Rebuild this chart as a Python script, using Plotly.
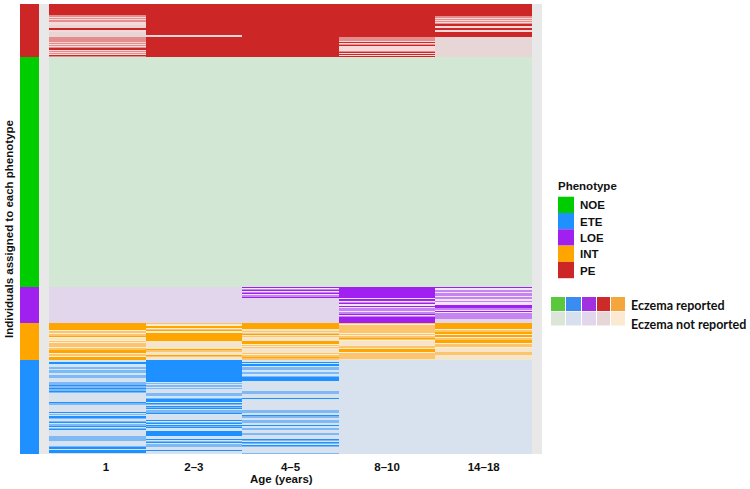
import plotly.graph_objects as go

AGES = ["1", "2–3", "4–5", "8–10", "14–18"]
AGE_TICK_POS = [0.09, 1, 2, 3, 4]
GROUPS = ["PE", "NOE", "LOE", "INT", "ETE"]
GROUP_ROWS = [53, 230, 36, 37, 94]
LEGEND_ORDER = ["NOE", "ETE", "LOE", "INT", "PE"]

# Each strip: (rows, state). State 0 = not reported, 1 = reported, 2 = mixed, 3 = mostly not
PE = [
    [(11,1),(2,2),(1,3),(1,2),(1,3),(2,2),(3,3),(3,0),(2,1),(2,3),(5,0),(5,2),(1,0),(1,2),(1,3),(1,2),(1,3),(1,2),(2,1),(1,3),(1,2),(1,3),(1,2),(1,3),(1,1),(1,2)],
    [(31,1),(1,3),(1,0),(20,1)],
    [(53,1)],
    [(33,1),(4,2),(1,3),(1,1),(1,3),(1,2),(1,1),(1,3),(4,3),(1,2),(1,1),(1,3),(1,1),(1,3),(1,1)],
    [(12,1),(2,2),(1,3),(1,2),(1,3),(1,2),(1,3),(1,2),(2,1),(2,3),(2,1),(2,3),(5,1),(20,0)],
]
NOE = [[(230,0)], [(230,0)], [(230,0)], [(230,0)], [(230,0)]]
LOE = [
    [(36,0)],
    [(36,0)],
    [(1,1),(1,3),(1,2),(1,1),(1,3),(1,2),(1,1),(1,3),(2,2),(1,1),(25,0)],
    [(11,1),(1,3),(2,1),(1,3),(1,2),(1,1),(2,3),(1,1),(1,3),(3,2),(1,3),(2,2),(1,1),(1,3),(1,2),(1,1),(5,1)],
    [(1,1),(2,3),(2,2),(1,3),(3,2),(1,3),(2,2),(2,3),(1,2),(3,3),(3,1),(2,2),(1,3),(1,1),(1,3),(6,2),(4,0)],
]
INT = [
    [(7,1),(1,3),(2,2),(1,3),(2,2),(1,1),(1,3),(2,0),(1,3),(1,2),(1,3),(4,2),(1,3),(2,2),(3,1),(1,3),(2,2),(1,3),(3,1)],
    [(1,2),(1,0),(1,3),(2,1),(1,3),(1,2),(1,1),(2,3),(8,1),(8,0),(1,1),(2,2),(3,0),(1,1),(1,2),(3,0)],
    [(6,1),(2,0),(1,2),(1,0),(1,2),(1,1),(1,0),(1,2),(4,0),(3,1),(1,3),(1,2),(1,3),(1,2),(5,0),(1,2),(1,3),(2,2),(1,1),(2,2)],
    [(1,2),(1,3),(8,2),(1,3),(1,2),(1,3),(2,2),(1,1),(1,2),(1,3),(5,0),(2,2),(1,0),(3,1),(1,3),(6,2),(1,0)],
    [(6,1),(1,3),(2,2),(2,1),(1,3),(2,1),(1,3),(2,2),(3,1),(1,3),(3,2),(1,3),(4,0),(3,2),(5,0)],
]
ETE = [
    [(2,3),(2,1),(3,3),(2,2),(1,3),(3,2),(2,3),(3,2),(3,0),(1,3),(3,2),(1,1),(2,2),(1,1),(2,2),(1,1),(1,2),(1,3),(8,0),(1,1),(2,2),(5,0),(2,0),(1,1),(1,3),(1,2),(1,0),(2,1),(1,2),(1,3),(1,0),(1,2),(1,1),(1,3),(2,2),(1,1),(1,3),(1,2),(1,1),(1,3),(5,0),(5,2),(2,0),(1,3),(2,0),(1,2),(2,1),(1,3),(3,1),(1,0)],
    [(22,1),(1,3),(1,2),(1,3),(2,2),(1,3),(1,2),(4,0),(3,2),(2,3),(1,2),(3,1),(1,3),(1,1),(1,2),(1,3),(1,1),(1,2),(1,1),(1,3),(3,2),(1,1),(1,3),(5,0),(1,1),(1,3),(1,2),(1,1),(1,3),(1,1),(1,2),(1,1),(3,3),(5,1),(2,0),(1,3),(1,1),(1,3),(1,2),(1,1),(1,3),(3,2),(3,0),(1,1),(3,0)],
    [(2,3),(1,1),(1,3),(2,1),(1,3),(3,2),(2,3),(2,2),(2,3),(1,2),(4,1),(10,0),(3,2),(4,0),(1,1),(11,0),(3,2),(2,0),(1,1),(2,2),(2,0),(3,2),(2,0),(1,1),(2,3),(2,2),(3,0),(2,2),(4,0),(1,1),(1,2),(1,3),(1,1),(1,2),(1,3),(1,1),(1,2),(6,0),(1,2)],
    [(94,0)],
    [(94,0)],
]
STRIPS = [PE, NOE, LOE, INT, ETE]

# state order: not reported, reported, mixed, mostly not
PALETTE = {
    "PE":  ["#e8d6d7", "#cd2626", "#e58c8c", "#f7d9d9"],
    "NOE": ["#d3e8d4", "#00cd00", "#80e080", "#d3e8d4"],
    "LOE": ["#e2d6ec", "#a020f0", "#c584f2", "#f2e4fb"],
    "INT": ["#f5e5cb", "#ffa500", "#fcc46c", "#feeed2"],
    "ETE": ["#d7e2ee", "#1e90ff", "#7fb9f5", "#d0e7fb"],
}

KEY_STRONG = ["#5ac83c", "#3a8cf0", "#a030e0", "#cd2a2a", "#f4a63c"]
KEY_PALE = ["#dbe6d8", "#d8e0ee", "#e2d6ec", "#e6d6d8", "#fbe9d2"]

colors = [c for g in GROUPS for c in PALETTE[g]]
n = len(colors)
colorscale = []
for i, c in enumerate(colors):
    colorscale += [[i / n, c], [(i + 1) / n, c]]

rows = []
side = []
for g, (name, cells, total) in enumerate(zip(GROUPS, STRIPS, GROUP_ROWS)):
    block = [[] for _ in AGES]
    for a, runs in enumerate(cells):
        for length, state in runs:
            block[a] += [g * 4 + state] * length
        assert len(block[a]) == total, (name, a, len(block[a]))
    for r in range(total):
        rows.append([block[a][r] for a in range(len(AGES))])
        side.append([g * 4 + 1])

y = [i + 0.5 for i in range(len(rows))]

W, H = 750, 489
FONT = "Liberation Sans"

fig = go.Figure()
common = dict(colorscale=colorscale, zmin=-0.5, zmax=n - 0.5, showscale=False, hoverinfo="skip")
fig.add_trace(go.Heatmap(z=rows, x=list(range(len(AGES))), y=y, xaxis="x", yaxis="y", **common))
fig.add_trace(go.Heatmap(z=side, x=[0], y=y, xaxis="x2", yaxis="y", **common))

shapes = []
annotations = []

def px_rect(x0, y0, x1, y1, color):
    shapes.append(dict(type="rect", xref="paper", yref="paper", x0=x0 / W, x1=x1 / W,
                       y0=1 - y1 / H, y1=1 - y0 / H, fillcolor=color, line_width=0, layer="above"))

def px_text(x, y_, text, size=11, family=FONT, anchor="left"):
    annotations.append(dict(xref="paper", yref="paper", x=x / W, y=1 - y_ / H, text="<b>%s</b>" % text,
                            showarrow=False, xanchor=anchor, yanchor="middle",
                            font=dict(family=family, size=size, color="#111111")))

px_text(556, 186, "Phenotype", size=11.5)
for i, name in enumerate(LEGEND_ORDER):
    top = 196.7 + i * 16.3
    px_rect(558, top, 574, top + 16.3, PALETTE[name][1])
    px_text(578, top + 8.6, name, size=11.5)

key_x = [551, 566, 582, 597, 611, 625]
for i in range(5):
    px_rect(key_x[i], 297, key_x[i + 1] - (1 if i < 4 else 0), 311, KEY_STRONG[i])
    px_rect(key_x[i], 311.5, key_x[i + 1] - (1 if i < 4 else 0), 325.5, KEY_PALE[i])
px_text(629, 305, "Eczema reported", size=12.5, family="Lato")
px_text(629, 324, "Eczema not reported", size=12.5, family="Lato")
px_text(281, 479, "Age (years)", size=11.5, anchor="center")

fig.update_layout(
    width=W, height=H, autosize=False,
    margin=dict(l=0, r=0, t=0, b=0),
    paper_bgcolor="white", plot_bgcolor="#e8e8e8",
    showlegend=False, shapes=shapes, annotations=annotations,
    font=dict(family=FONT, color="#111111"),
    xaxis=dict(domain=[39 / W, 542 / W], range=[-0.6035, 4.6035], anchor="y",
               tickmode="array", tickvals=AGE_TICK_POS,
               ticktext=["<b>%s</b>" % a for a in AGES], ticks="", showgrid=False, zeroline=False,
               showline=False, tickfont=dict(size=11.5, family=FONT), ticklabelstandoff=4),
    xaxis2=dict(domain=[20 / W, 39 / W], range=[-0.5, 0.5], anchor="y", visible=False),
    yaxis=dict(domain=[1 - 454 / H, 1 - 4 / H], range=[450, 0], anchor="x2", showticklabels=False,
               ticks="", showgrid=False, zeroline=False, showline=False,
               title=dict(text="<b>Individuals assigned to each phenotype</b>", standoff=2,
                          font=dict(size=11.5, family=FONT))),
)

fig.write_html("out.html", config=dict(displayModeBar=False),
               post_script="document.body.style.margin='0';document.body.style.overflow='hidden';")
